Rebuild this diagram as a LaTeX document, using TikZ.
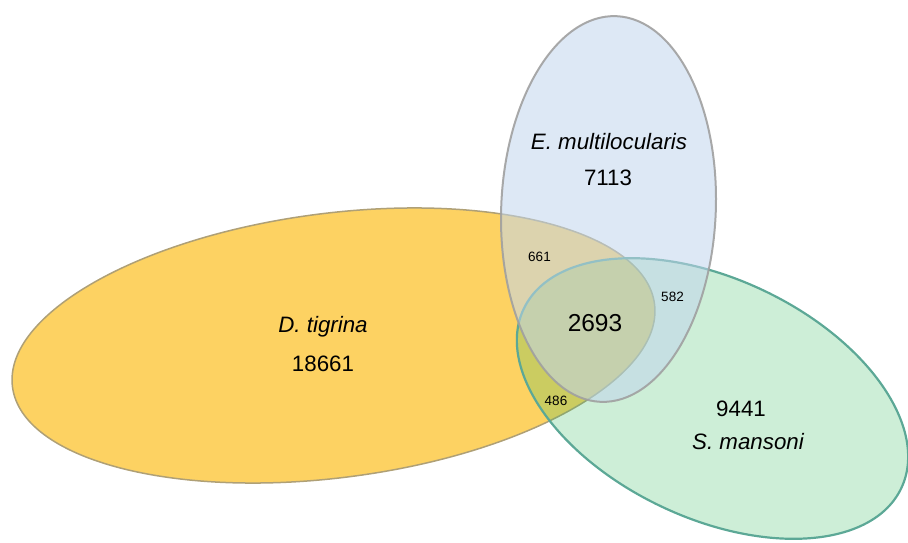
\documentclass[tikz,border=0pt]{standalone}
\usepackage{fontspec}
\setmainfont{Liberation Sans}
\definecolor{tigfill}{RGB}{253,210,98}
\definecolor{tigline}{RGB}{175,160,118}
\definecolor{emfill}{RGB}{193,213,237}
\definecolor{emline}{RGB}{160,160,160}
\definecolor{smfill}{RGB}{56,187,95}
\definecolor{smline}{RGB}{92,168,150}
\tikzset{
  setlabel/.style={anchor=base, inner sep=0pt, font=\fontsize{22.3}{26}\selectfont},
  countlabel/.style={anchor=base, inner sep=0pt, font=\fontsize{13.5}{16}\selectfont},
  corelabel/.style={anchor=base, inner sep=0pt, font=\fontsize{24.5}{28}\selectfont},
}
\begin{document}
\begin{tikzpicture}[x=1pt,y=1pt]
\useasboundingbox (0,0) rectangle (908,-543);
% D. tigrina
\filldraw[fill=tigfill, draw=tigline, line width=1.5pt,
  rotate around={7.36:(333.5,-345.5)}]
  (333.5,-345.5) ellipse [x radius=323.7pt, y radius=132.2pt];
% S. mansoni
\filldraw[fill=smfill, fill opacity=0.25, draw=smline, draw opacity=1, line width=2.2pt,
  rotate around={-25.4:(712.5,-398.5)}]
  (712.5,-398.5) ellipse [x radius=209pt, y radius=119.5pt];
% E. multilocularis
\filldraw[fill=emfill, fill opacity=0.55, draw=emline, draw opacity=0.9, line width=2pt,
  rotate around={-2.35:(608.5,-209)}]
  (608.5,-209) ellipse [x radius=107.3pt, y radius=193pt];
% labels
\node[setlabel] (emname) at (609,-149) {\itshape E. multilocularis};
\node[setlabel] (emcount) at (608,-185) {7113};
\node[setlabel] (dtname) at (323,-332) {\itshape D. tigrina};
\node[setlabel] (dtcount) at (323,-371) {18661};
\node[setlabel] (smcount) at (741,-416) {9441};
\node[setlabel] (smname) at (748,-449) {\itshape S. mansoni};
\node[corelabel] (core) at (595,-331.5) {2693};
\node[countlabel] (dtem) at (539.5,-261) {661};
\node[countlabel] (emsm) at (672.5,-301) {582};
\node[countlabel] (dtsm) at (556,-405.5) {486};
\end{tikzpicture}
\end{document}
